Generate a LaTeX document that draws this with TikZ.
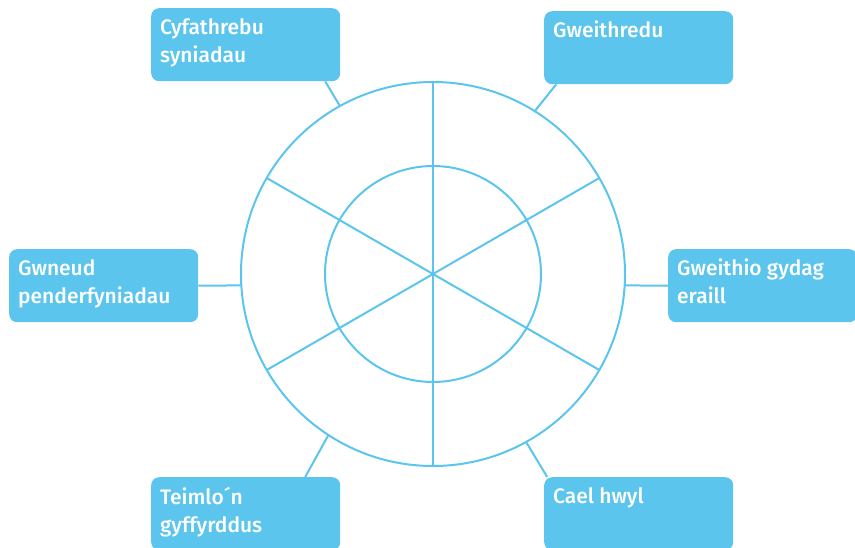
\documentclass[tikz,border=0pt]{standalone}
\usepackage{fontspec}
\setmainfont{Fira Sans}[UprightFont=* Medium]
\usetikzlibrary{positioning}
\definecolor{skyblue}{HTML}{5BC5ED}
\tikzset{
  box/.style={fill=skyblue, rounded corners=8pt, minimum width=189pt, minimum height=73pt, anchor=north west, inner sep=0pt},
  boxtext/.style={text=white, font=\fontsize{21}{28}\selectfont, align=left, inner sep=0pt},
  wheel/.style={draw=skyblue, line width=2pt},
}
\begin{document}
\begin{tikzpicture}[x=1pt, y=-1pt]
  \useasboundingbox (0,0) rectangle (855,547);

  % Wheel
  \coordinate (c) at (433,274);
  \draw[wheel] (c) circle (192);
  \draw[wheel] (c) circle (108);
  \foreach \a in {30,90,...,330}
    \draw[wheel] (c) -- ++(\a:192);

  % Points on the rim
  \path (c) ++(-119:192) coordinate (ideastip);
  \path (c) ++(-58:192) coordinate (actingtip);
  \path (c) ++(3.4:192) coordinate (otherstip);
  \path (c) ++(176.6:192) coordinate (decisionstip);
  \path (c) ++(123:192) coordinate (comforttip);
  \path (c) ++(61:192) coordinate (funtip);

  % Boxes
  \node[box] (ideas) at (151,8) {};
  \node[box] (acting) at (544,11) {};
  \node[box] (others) at (668,249) {};
  \node[box] (decisions) at (9,249) {};
  \node[box] (comfort) at (151,477) {};
  \node[box] (fun) at (544,477) {};

  % Labels
  \node[boxtext, below right=10pt and 9pt of ideas.north west] (ideaslbl) {Cyfathrebu\\syniadau};
  \node[boxtext, below right=10pt and 9pt of acting.north west] (actinglbl) {Gweithredu};
  \node[boxtext, below right=10pt and 9pt of others.north west] (otherslbl) {Gweithio gydag\\eraill};
  \node[boxtext, below right=10pt and 9pt of decisions.north west] (decisionslbl) {Gwneud\\penderfyniadau};
  \node[boxtext, below right=10pt and 9pt of comfort.north west] (comfortlbl) {Teimlo´n\\gyffyrddus};
  \node[boxtext, below right=10pt and 9pt of fun.north west] (funlbl) {Cael hwyl};

  % Connectors
  \draw[wheel] ([xshift=79.5pt]ideas.south) -- (ideastip);
  \draw[wheel] ([xshift=-82.5pt]acting.south) -- (actingtip);
  \draw[wheel] (others.west) -- (otherstip);
  \draw[wheel] (decisions.east) -- (decisionstip);
  \draw[wheel] ([xshift=59.5pt]comfort.north) -- (comforttip);
  \draw[wheel] ([xshift=-91.5pt]fun.north) -- (funtip);
\end{tikzpicture}
\end{document}
